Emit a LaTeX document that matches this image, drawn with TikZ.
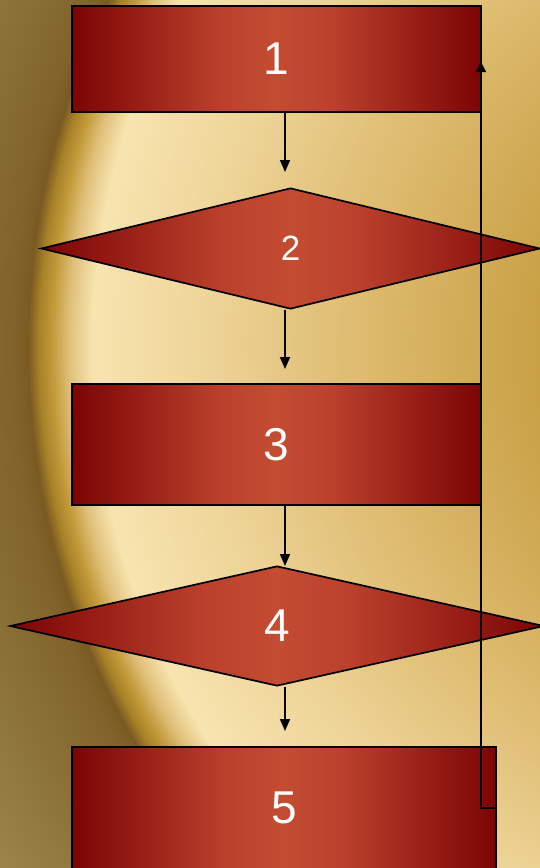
\documentclass[tikz,border=0pt]{standalone}
\usepackage{fontspec}
\setmainfont{Liberation Sans}
\usetikzlibrary{shapes.geometric,arrows.meta}
\definecolor{bgA}{HTML}{B88A30}
\definecolor{bgB}{HTML}{C9A045}
\definecolor{bgC}{HTML}{DDBA6E}
\definecolor{bgD}{HTML}{EDD396}
\definecolor{bgE}{HTML}{F8E4B0}
\definecolor{bgF}{HTML}{E0C07A}
\definecolor{bgG}{HTML}{C39A3A}
\definecolor{bgH}{HTML}{A88128}
\definecolor{bgI}{HTML}{7A5A22}
\definecolor{bgJ}{HTML}{80632A}
\definecolor{bgK}{HTML}{A08C52}
\definecolor{rdark}{HTML}{7C0404}
\definecolor{rmid}{HTML}{BA402C}
\definecolor{rlight}{HTML}{C44C32}
\pgfdeclareradialshading{bgshade}{\pgfpointorigin}{color(0bp)=(bgA); color(6.85bp)=(bgB); color(11.25bp)=(bgC); color(15bp)=(bgD); color(18.05bp)=(bgE); color(18.625bp)=(bgF); color(19.05bp)=(bgG); color(19.375bp)=(bgH); color(19.65bp)=(bgI); color(20bp)=(bgJ); color(25bp)=(bgK); color(50bp)=(bgK)}
\pgfdeclarehorizontalshading{redbar}{100bp}{color(0bp)=(rdark); color(25bp)=(rdark); color(43bp)=(rmid); color(50bp)=(rlight); color(57bp)=(rmid); color(75bp)=(rdark); color(100bp)=(rdark)}
\begin{document}
\begin{tikzpicture}[x=1pt,y=-1pt,
  boxnode/.style={rectangle, draw=black, line width=1.7pt, shade, shading=redbar, text=white, inner sep=0pt, font=\fontsize{46}{46}\selectfont},
  dianode/.style={diamond, draw=black, line width=1.7pt, shade, shading=redbar, text=white, inner sep=0pt, font=\fontsize{46}{46}\selectfont},
  flowarrow/.style={draw=black, line width=1.7pt, -{Triangle[length=12pt,width=10pt]}},
  backarrow/.style={draw=black, line width=1.7pt, -{Triangle[length=10pt,width=10pt]}}]
\useasboundingbox (0,0) rectangle (540,868);
\begin{scope}
\clip (0,0) rectangle (540,868);
\shade[shading=bgshade] (814,347) circle[radius=1000pt];
\end{scope}
\node[boxnode, minimum width=409pt, minimum height=106pt] (b1) at (276.5,59) {1};
\node[dianode, minimum width=499pt, minimum height=121pt, font=\fontsize{35}{35}\selectfont] (d2) at (290.5,248.5) {2};
\node[boxnode, minimum width=409pt, minimum height=121pt] (b3) at (276.5,444.5) {3};
\node[dianode, minimum width=534pt, minimum height=120pt] (d4) at (277,626) {4};
\node[boxnode, minimum width=424pt, minimum height=122pt] (b5) at (284,808) {5};
\coordinate (a1) at (285,172);
\coordinate (a2) at (285,369);
\coordinate (a3) at (285,566);
\coordinate (a4) at (285,731);
\coordinate (fb) at (481,62);
\draw[flowarrow] (b1.south -| a1) -- (a1);
\draw[flowarrow] (d2.south -| a2) -- (a2);
\draw[flowarrow] (b3.south -| a3) -- (a3);
\draw[flowarrow] (d4.south -| a4) -- (a4);
\draw[backarrow] (b5.east) -- (b5.east -| fb) -- (fb);
\end{tikzpicture}
\end{document}
